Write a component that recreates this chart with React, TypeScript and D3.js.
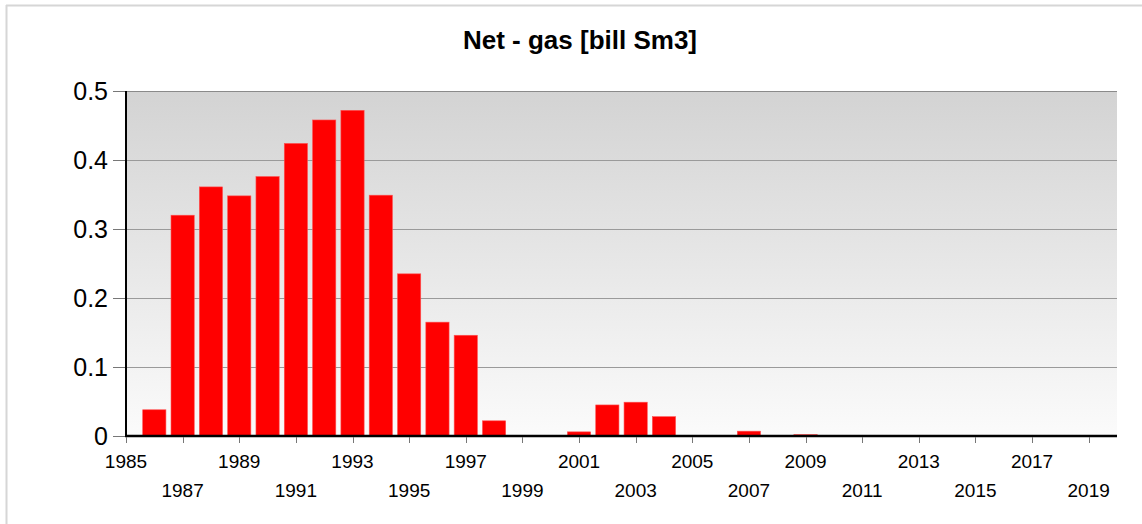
import React from "react";
import * as d3 from "d3";

const years: number[] = [1986, 1987, 1988, 1989, 1990, 1991, 1992, 1993, 1994, 1995, 1996, 1997, 1998, 1999, 2000, 2001, 2002, 2003, 2004, 2005, 2006, 2007, 2008, 2009, 2010, 2011, 2012, 2013, 2014, 2015, 2016, 2017, 2018, 2019];
const netGas: number[] = [0.038, 0.320, 0.361, 0.348, 0.376, 0.424, 0.458, 0.472, 0.349, 0.235, 0.165, 0.146, 0.022, 0, 0, 0.006, 0.045, 0.049, 0.028, 0, 0, 0.007, 0, 0.002, 0, 0, 0, 0, 0, 0, 0, 0, 0, 0];
const yTicks: number[] = [0, 0.1, 0.2, 0.3, 0.4, 0.5];
const xTickYears: number[] = d3.range(1985, 2020, 2);
const title = "Net - gas [bill Sm3]";

const W = 1142;
const H = 524;
const left = 126;
const right = 1117;
const top = 91;
const bottom = 436;

export default function App() {
  const x = d3.scaleLinear().domain([1985, 2020]).range([left, right]);
  const y = d3.scaleLinear().domain([0, 0.5]).range([bottom, top]);
  const step = x(1986) - x(1985);
  const bw = step * 0.82;
  const font = "'Liberation Sans', Arial, sans-serif";

  return (
    <svg width={W} height={H} style={{ position: "absolute", left: 0, top: 0, background: "#fff" }} fontFamily={font}>
      <defs>
        <linearGradient id="bg" x1="0" y1="0" x2="0" y2="1">
          <stop offset="0" stopColor="#d3d3d3" />
          <stop offset="1" stopColor="#fbfbfb" />
        </linearGradient>
      </defs>
      <line x1={6.5} y1={5} x2={6.5} y2={H} stroke="#d6d6d6" strokeWidth={2} />
      <line x1={6} y1={5.5} x2={W} y2={5.5} stroke="#d6d6d6" strokeWidth={2} />
      <text x={580} y={49} textAnchor="middle" fontSize={26} fontWeight="bold" fill="#000">{title}</text>
      <rect x={left} y={top} width={right - left} height={bottom - top} fill="url(#bg)" />
      {yTicks.filter(t => t > 0).map(t => (
        <line key={"g" + t} x1={left} x2={right} y1={Math.round(y(t)) + 0.5} y2={Math.round(y(t)) + 0.5} stroke={t === 0.5 ? "#8a8a8a" : "#9a9a9a"} strokeWidth={1.2} />
      ))}
      {yTicks.map(t => (
        <g key={"y" + t}>
          <line x1={113} x2={left} y1={Math.round(y(t)) + 0.5} y2={Math.round(y(t)) + 0.5} stroke="#777" strokeWidth={1} />
          <text x={108} y={y(t)} dy="0.36em" textAnchor="end" fontSize={25} fill="#000">{d3.format("")(t)}</text>
        </g>
      ))}
      {years.map((yr, i) => netGas[i] > 0 ? (
        <rect key={yr} x={x(yr) - bw / 2} y={y(netGas[i])} width={bw} height={bottom - y(netGas[i])} fill="#ff0000" stroke="#ff5050" strokeWidth={0.6} />
      ) : null)}
      <line x1={left} x2={left} y1={top} y2={bottom + 1} stroke="#000" strokeWidth={2} />
      <line x1={left - 1} x2={right} y1={bottom} y2={bottom} stroke="#000" strokeWidth={2.5} />
      {xTickYears.map((yr, i) => (
        <g key={"x" + yr}>
          <line x1={Math.round(x(yr)) + 0.5} x2={Math.round(x(yr)) + 0.5} y1={bottom + 1} y2={bottom + 7} stroke="#777" strokeWidth={1} />
          <text x={x(yr)} y={i % 2 === 0 ? 468 : 497} textAnchor="middle" fontSize={19} fill="#000">{yr}</text>
        </g>
      ))}
    </svg>
  );
}
